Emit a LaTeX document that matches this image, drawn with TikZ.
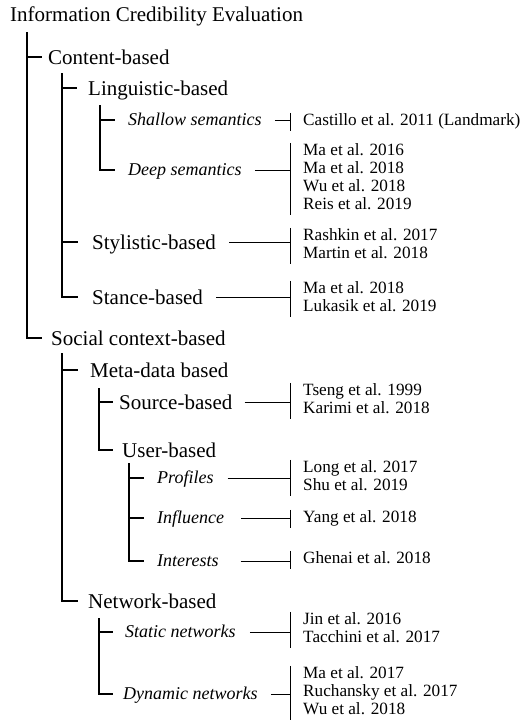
\documentclass[tikz,border=0pt]{standalone}
\usepackage{fontspec}
\setmainfont{Liberation Serif}
\begin{document}
\begin{tikzpicture}[x=1pt,y=-1pt,
  mainlbl/.style={font=\fontsize{21}{24}\selectfont, inner sep=0pt, text height=14pt, text depth=0pt, anchor=west},
  itlbl/.style={font=\fontsize{18}{21}\selectfont\itshape, inner sep=0pt, text height=11pt, text depth=0pt, anchor=west},
  refs/.style={font=\fontsize{17.2}{18}\selectfont, align=left, inner xsep=13pt, inner ysep=0pt, anchor=west},
  tree/.style={line width=1.2pt},
  conn/.style={line width=0.9pt}]
\useasboundingbox (0,0) rectangle (523,721);

% labels
\node[mainlbl] (root) at (10,14) {Information Credibility Evaluation};
\node[mainlbl] (content) at (48,57) {Content-based};
\node[mainlbl] (ling) at (88,88) {Linguistic-based};
\node[itlbl] (shallow) at (128,120) {Shallow semantics};
\node[itlbl] (deep) at (128,170) {Deep semantics};
\node[mainlbl] (styl) at (92,242) {Stylistic-based};
\node[mainlbl] (stance) at (92,297) {Stance-based};
\node[mainlbl] (social) at (51,338) {Social context-based};
\node[mainlbl] (meta) at (90,370) {Meta-data based};
\node[mainlbl] (source) at (119,402) {Source-based};
\node[mainlbl] (user) at (122,450) {User-based};
\node[itlbl] (prof) at (157,478) {Profiles};
\node[itlbl] (infl) at (157,518) {Influence};
\node[itlbl] (inter) at (157,561) {Interests};
\node[mainlbl] (net) at (88,601) {Network-based};
\node[itlbl] (static) at (125,632) {Static networks};
\node[itlbl] (dyn) at (123,694) {Dynamic networks};

% references
\node[refs] (rshallow) at (290,122) {\strut Castillo et al. 2011 (Landmark)};
\node[refs] (rdeep) at (290,179) {\strut Ma et al. 2016\\\strut Ma et al. 2018\\\strut Wu et al. 2018\\\strut Reis et al. 2019};
\node[refs] (rstyl) at (290,246) {\strut Rashkin et al. 2017\\\strut Martin et al. 2018};
\node[refs] (rstance) at (290,299) {\strut Ma et al. 2018\\\strut Lukasik et al. 2019};
\node[refs] (rsource) at (290,401) {\strut Tseng et al. 1999\\\strut Karimi et al. 2018};
\node[refs] (rprof) at (290,478) {\strut Long et al. 2017\\\strut Shu et al. 2019};
\node[refs] (rinfl) at (290,519) {\strut Yang et al. 2018};
\node[refs] (rinter) at (290,560) {\strut Ghenai et al. 2018};
\node[refs] (rstatic) at (290,630) {\strut Jin et al. 2016\\\strut Tacchini et al. 2017};
\node[refs] (rdyn) at (290,693) {\strut Ma et al. 2017\\\strut Ruchansky et al. 2017\\\strut Wu et al. 2018};

% trunk tops
\coordinate (t0) at (27,32);
\coordinate (t1) at (62,73);
\coordinate (t2) at (100,105);
\coordinate (t3) at (62,353);
\coordinate (t4) at (99,388);
\coordinate (t5) at (129,463);
\coordinate (t6) at (99,618);

% tree
\draw[tree] (t0) -- (t0 |- social.west) -- ++(15,0);
\draw[tree] (t0 |- content.west) -- ++(15,0);
\draw[tree] (t1) -- (t1 |- stance.west) -- ++(16,0);
\draw[tree] (t1 |- ling.west) -- ++(15,0);
\draw[tree] (t1 |- styl.west) -- ++(16,0);
\draw[tree] (t2) -- (t2 |- deep.west) -- ++(15,0);
\draw[tree] (t2 |- shallow.west) -- ++(15,0);
\draw[tree] (t3) -- (t3 |- net.west) -- ++(16,0);
\draw[tree] (t3 |- meta.west) -- ++(16,0);
\draw[tree] (t4) -- (t4 |- user.west) -- ++(14,0);
\draw[tree] (t4 |- source.west) -- ++(14,0);
\draw[tree] (t5) -- (t5 |- inter.west) -- ++(15,0);
\draw[tree] (t5 |- prof.west) -- ++(15,0);
\draw[tree] (t5 |- infl.west) -- ++(15,0);
\draw[tree] (t6) -- (t6 |- dyn.west) -- ++(14,0);
\draw[tree] (t6 |- static.west) -- ++(14,0);

% connectors to references
\foreach \l/\r/\g in {shallow/rshallow/13, deep/rdeep/13, styl/rstyl/13, stance/rstance/13,
  source/rsource/12, prof/rprof/14, infl/rinfl/17, inter/rinter/22, static/rstatic/14, dyn/rdyn/13}{
  \draw[conn] ([xshift=\g pt]\l.east) -- (\l.east -| \r.west);
  \draw[conn] (\r.north west) -- (\r.south west);
}
\end{tikzpicture}
\end{document}
